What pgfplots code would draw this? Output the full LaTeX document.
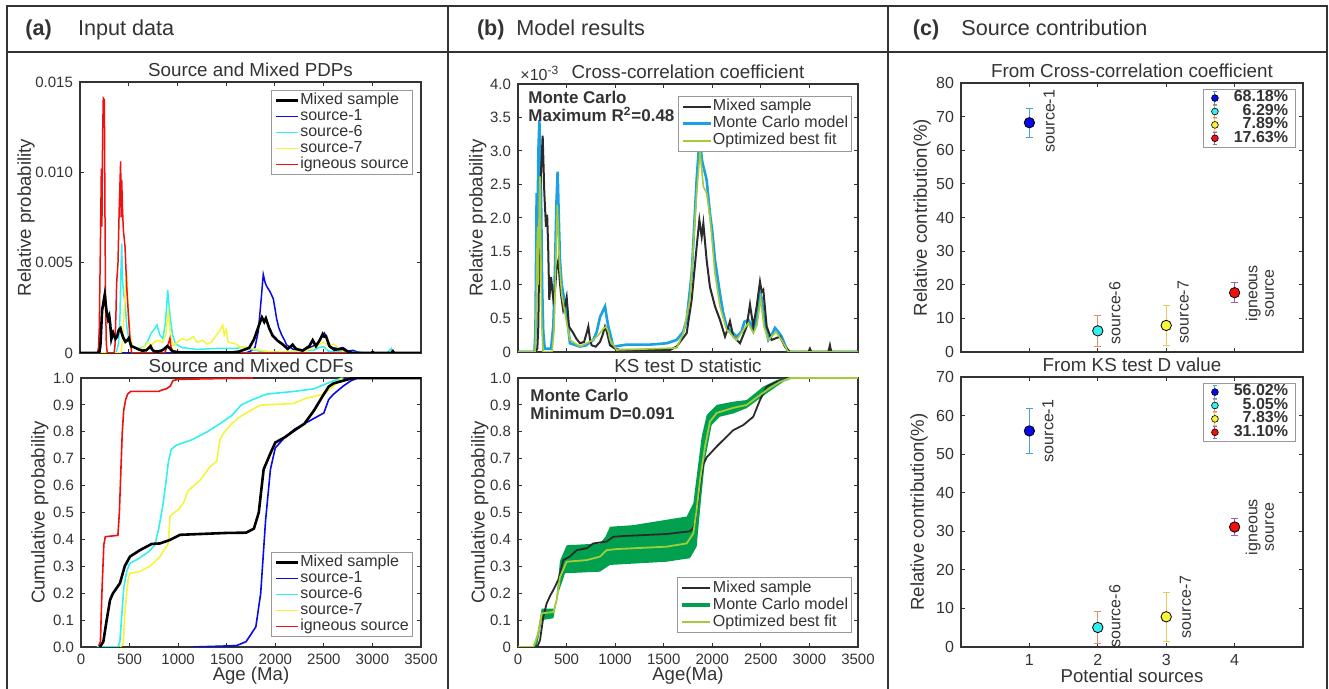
\documentclass[border=0pt]{standalone}
\usepackage{fontspec}
\setmainfont{Liberation Sans}
\usepackage{pgfplots}
\usepackage{pgfplotstable}
\pgfplotsset{compat=1.18}

\definecolor{axgray}{HTML}{333333}
\definecolor{txtgray}{HTML}{333333}
\definecolor{mixgray}{HTML}{2B2B2B}
\definecolor{s1}{HTML}{0A0AE6}
\definecolor{s6}{HTML}{33F0F0}
\definecolor{s7}{HTML}{F5F53A}
\definecolor{ign}{HTML}{F01010}
\definecolor{mcblue}{HTML}{1BA1E2}
\definecolor{fitgreen}{HTML}{A2CC3A}
\definecolor{bandgreen}{HTML}{00A04E}
\definecolor{e1}{HTML}{4A9FD8}
\definecolor{e6}{HTML}{E3906A}
\definecolor{e7}{HTML}{F0C65A}
\definecolor{eig}{HTML}{A45CB0}

% mixed sample PDP, in units of 1e-3
\pgfplotstableread{
x y
0 0
175 0
199 0.05
209 0.38
227 2.37
254 3.23
271 2.37
288 1.87
300 2.05
310 1.6
322 0.78
340 1.12
364 0.78
380 0.9
398 1.27
415 1.37
428 1.1
442 0.87
466 0.62
485 0.7
501 0.82
525 0.38
570 0.28
600 0.2
638 0.13
680 0.15
710 0.3
724 0.38
740 0.2
758 0.1
800 0.08
844 0.15
870 0.25
896 0.38
915 0.3
947 0.1
1000 0.05
1050 0.03
1564 0.03
1633 0.08
1684 0.18
1736 0.28
1788 0.78
1839 1.57
1867 1.97
1891 1.72
1908 1.92
1942 1.37
1976 0.97
2028 0.68
2079 0.48
2131 0.23
2160 0.35
2182 0.46
2216 0.23
2285 0.13
2354 0.38
2388 0.71
2422 0.38
2457 0.68
2491 1.05
2508 0.9
2525 0.93
2560 0.38
2611 0.18
2697 0.23
2748 0.08
2800 0
2990 0
3005 0.05
3020 0
3195 0
3211 0.1
3225 0
3500 0
}\mixpdp

\pgfplotsset{
  panel/.style={
    scale only axis, anchor=south west, clip mode=individual,
    axis line style={axgray, line width=0.7pt},
    tick style={axgray, line width=0.5pt},
    major tick length=2pt,
    tick label style={font=\fontsize{7.5}{8}\selectfont, text=txtgray},
    label style={font=\fontsize{9.3}{10}\selectfont, text=txtgray},
    every axis title shift=0pt,
    title style={font=\fontsize{9.4}{10}\selectfont, text=txtgray, at={(0.5,1)}, anchor=base, inner sep=0pt, yshift=2.7pt},
    xlabel style={at={(axis description cs:0.5,-0.106)}, anchor=center},
    /pgf/number format/assume math mode=true,
    legend style={draw=gray!80, line width=0.4pt, fill=white,
      font=\fontsize{8}{8}\selectfont, text=txtgray,
      inner xsep=1.5pt, inner ysep=1pt, cells={anchor=west},
      nodes={inner sep=0.4pt, text height=5.6pt, text depth=1.6pt}},
    legend image code/.code={\draw[##1] (0pt,0pt) -- (11pt,0pt);},
    xmin=0, xmax=3500,
  },
  ylab/.style={ylabel style={at={(axis description cs:#1,0.5)}, anchor=center}},
  agetick/.style={xtick={0,500,...,3500}},
  agelabels/.style={xticklabels={0,500,1000,1500,2000,2500,3000,3500}},
  blegend/.style={
    legend image code/.code={\draw[##1] (0pt,0pt) -- (14pt,0pt);},
    legend style={nodes={text height=6pt, text depth=2pt, inner sep=0.25pt}}},
  contrib/.style={
    xmin=0, xmax=5, ymin=0, xtick={1,2,3,4},
    tick label style={font=\fontsize{8}{8}\selectfont},
    legend cell align=right,
    legend style={at={(1,1)}, anchor=north east, xshift=-3.5pt, yshift=-3pt,
      inner xsep=3.5pt,
      font=\bfseries\fontsize{8}{8}\selectfont,
      nodes={text height=4.9pt, text depth=1.1pt, inner sep=0.25pt}}},
  pt/.style={only marks, mark=*, mark size=2.6pt, forget plot,
    mark options={fill=#1, draw=black, line width=0.4pt},
    error bars/y dir=both, error bars/y explicit},
  eb/.style={error bars/error bar style={color=#1, line width=0.5pt},
    error bars/error mark options={rotate=90, color=#1, line width=0.5pt, mark size=1.75pt}},
}
\tikzset{lab/.style={rotate=90, font=\fontsize{8}{8.3}\selectfont, text=txtgray, align=center, inner sep=0pt}}

\newcommand{\legpt}[2]{%
  \addlegendimage{legend image code/.code={%
    \path (0pt,0pt) (11pt,0pt);
    \draw[#2, line width=0.5pt] (2pt,-3.1pt) -- (2pt,3.1pt)
      (0.8pt,3.1pt) -- (3.2pt,3.1pt) (0.8pt,-3.1pt) -- (3.2pt,-3.1pt);
    \filldraw[fill=#1, draw=black, line width=0.3pt] (2pt,0pt) circle (1.7pt);}}}

\begin{document}
\begin{tikzpicture}
\useasboundingbox (0,0) rectangle (664.5pt,344.5pt);

% frame
\draw[axgray, line width=1pt] (3.5pt,0pt) -- (3.5pt,341.5pt) -- (663.5pt,341.5pt) -- (663.5pt,0pt);
\draw[axgray, line width=1pt] (3.5pt,318.5pt) -- (663.5pt,318.5pt);
\draw[axgray, line width=1pt] (224pt,0pt) -- (224pt,341.5pt);
\draw[axgray, line width=1pt] (444pt,0pt) -- (444pt,341.5pt);
\begin{scope}[every node/.style={anchor=base west, inner sep=0pt, text=txtgray}]
\node[font=\bfseries\fontsize{10.8}{11}\selectfont] at (12.5pt,326.5pt) {(a)};
\node[font=\fontsize{10.8}{11}\selectfont] at (38.8pt,326.5pt) {Input data};
\node[font=\bfseries\fontsize{10.8}{11}\selectfont] at (238.3pt,326.5pt) {(b)};
\node[font=\fontsize{10.8}{11}\selectfont] at (258pt,326.5pt) {Model results};
\node[font=\bfseries\fontsize{10.8}{11}\selectfont] at (456.2pt,326.5pt) {(c)};
\node[font=\fontsize{10.8}{11}\selectfont] at (480.5pt,326.5pt) {Source contribution};
\end{scope}

% (a) top: PDPs
\begin{axis}[panel, ylab=-0.158, at={(40pt,168pt)}, width=170.5pt, height=135.5pt,
  ymin=0, ymax=15, ytick={0,5,10,15}, yticklabels={0,0.005,0.010,0.015},
  agetick, xticklabels={},
  ylabel={Relative probability}, title={Source and Mixed PDPs},
  legend style={at={(1,1)}, anchor=north east, xshift=-4pt, yshift=-4pt}]
\addlegendimage{black, line width=1.3pt}\addlegendentry{Mixed sample}
\addlegendimage{s1, line width=0.8pt}\addlegendentry{source-1}
\addlegendimage{s6, line width=0.8pt}\addlegendentry{source-6}
\addlegendimage{s7, line width=0.8pt}\addlegendentry{source-7}
\addlegendimage{ign, line width=0.8pt}\addlegendentry{igneous source}
\addplot[s1, line width=0.75pt, forget plot] coordinates {
(0,0) (1700,0) (1750,0.1) (1796,0.3) (1830,1.2) (1860,3.0) (1881,4.35) (1900,3.9)
(1915,3.7) (1950,3.4) (1984,3.0) (2000,2.5) (2018,1.9) (2040,1.4) (2070,1.0)
(2100,0.7) (2120,0.45) (2190,0.2) (2300,0.15) (2400,0.4) (2450,0.6) (2480,0.85)
(2510,1.1) (2540,0.7) (2580,0.3) (2650,0.25) (2700,0.3) (2750,0.1) (2800,0.15)
(2850,0.05) (2900,0) (3500,0)};
\addplot[s6, line width=0.75pt, forget plot] coordinates {
(0,0) (370,0) (395,0.5) (410,2.0) (420,4.5) (428,6.07) (437,4.0) (450,3.2)
(465,2.6) (480,1.5) (500,0.8) (530,0.4) (600,0.25) (660,0.35) (700,0.7) (730,1.1)
(760,1.3) (790,1.55) (820,1.0) (850,0.8) (875,1.6) (890,2.6) (900,3.49) (912,2.7)
(930,1.8) (950,1.0) (980,0.5) (1050,0.3) (1200,0.2) (1400,0.25) (1600,0.25)
(1700,0.35) (1760,0.2) (1850,0.1) (2000,0.05) (2200,0.1) (2400,0.15) (2450,0.3)
(2500,0.35) (2550,0.1) (2700,0.05) (3150,0) (3195,0.25) (3210,0) (3500,0)};
\addplot[s7, line width=0.75pt, forget plot] coordinates {
(0,0) (420,0) (440,0.8) (455,2.5) (479,4.45) (488,3.2) (498,2.0) (512,1.0)
(540,0.4) (600,0.2) (650,0.3) (700,0.6) (730,0.4) (760,0.6) (800,0.7) (850,0.6)
(880,1.0) (895,1.8) (906,2.3) (920,1.5) (935,0.8) (960,0.4) (1000,0.6) (1050,0.8)
(1100,0.7) (1163,0.9) (1200,0.6) (1260,0.7) (1300,0.5) (1350,0.6) (1400,1.0)
(1430,1.2) (1464,1.55) (1480,1.0) (1500,1.3) (1520,0.6) (1600,0.5) (1650,0.3)
(1700,0.35) (1800,0.2) (1900,0.1) (2000,0.05) (2300,0.1) (2400,0.3) (2450,0.45)
(2500,0.6) (2550,0.4) (2600,0.5) (2650,0.3) (2700,0.05) (2750,0) (3500,0)};
\addplot[ign, line width=0.75pt, forget plot] coordinates {
(0,0) (180,0) (190,0.3) (198,1.4) (212,7.0) (219,10.2) (225,7.0) (232,12.0)
(239,14.1) (250,14.0) (256,8.0) (262,3.0) (270,0.5) (280,0) (350,0) (359,0.4)
(369,2.2) (376,3.86) (390,5.0) (403,8.1) (417,10.6) (423,7.5) (428,9.6) (436,8.0)
(445,6.8) (462,5.9) (479,3.7) (496,2.2) (513,0.8) (530,0) (870,0) (890,0.3)
(906,0.5) (923,0.81) (935,0.3) (960,0) (3500,0)};
\addplot[black, line width=1.3pt, forget plot] table {\mixpdp};
\end{axis}

% (a) bottom: CDFs
\begin{axis}[panel, ylab=-0.121, at={(40.5pt,21pt)}, width=170pt, height=134.5pt,
  ymin=0, ymax=1, ytick={0,0.1,...,1},
  yticklabels={0.0,0.1,0.2,0.3,0.4,0.5,0.6,0.7,0.8,0.9,1.0},
  agetick, agelabels,
  xlabel={Age (Ma)}, ylabel={Cumulative probability}, title={Source and Mixed CDFs},
  legend style={at={(1,0)}, anchor=south east, xshift=-4pt, yshift=5pt}]
\addlegendimage{black, line width=1.3pt}\addlegendentry{Mixed sample}
\addlegendimage{s1, line width=0.8pt}\addlegendentry{source-1}
\addlegendimage{s6, line width=0.8pt}\addlegendentry{source-6}
\addlegendimage{s7, line width=0.8pt}\addlegendentry{source-7}
\addlegendimage{ign, line width=0.8pt}\addlegendentry{igneous source}
\addplot[ign, line width=0.8pt, forget plot] coordinates {
(178,0) (200,0.02) (215,0.2) (235,0.38) (250,0.41) (380,0.415) (395,0.5) (410,0.65)
(425,0.8) (440,0.88) (460,0.92) (480,0.94) (510,0.95) (800,0.95) (830,0.955)
(880,0.96) (920,0.97) (945,0.99) (1000,0.995) (1770,1.0)};
\addplot[s6, line width=0.8pt, forget plot] coordinates {
(160,0) (380,0) (400,0.02) (420,0.12) (440,0.22) (470,0.28) (500,0.31) (600,0.33)
(700,0.355) (760,0.38) (800,0.44) (840,0.52) (870,0.6) (900,0.69) (930,0.735)
(980,0.75) (1140,0.77) (1300,0.8) (1430,0.83) (1550,0.86) (1650,0.9) (1770,0.92)
(1910,0.94) (2190,0.95) (2400,0.96) (2500,0.975) (2600,0.99) (2700,1.0)};
\addplot[s7, line width=0.8pt, forget plot] coordinates {
(401,0) (435,0.01) (450,0.12) (470,0.2) (490,0.26) (504,0.274) (600,0.28)
(710,0.3) (813,0.336) (899,0.385) (910,0.45) (916,0.485) (960,0.5) (1000,0.51)
(1053,0.534) (1100,0.58) (1225,0.62) (1328,0.67) (1397,0.69) (1430,0.77)
(1465,0.794) (1550,0.83) (1637,0.856) (1750,0.88) (1843,0.899) (2186,0.905)
(2320,0.925) (2500,0.94) (2600,0.97) (2683,1.0)};
\addplot[s1, line width=0.8pt, forget plot] coordinates {
(1156,0) (1600,0.005) (1700,0.02) (1800,0.075) (1850,0.2) (1900,0.47) (1950,0.66)
(2000,0.74) (2100,0.78) (2200,0.81) (2300,0.83) (2450,0.86) (2500,0.87)
(2550,0.92) (2600,0.94) (2700,0.97) (2780,0.99) (2850,1.0) (3500,1.0)};
\addplot[black, line width=1.3pt, forget plot] coordinates {
(195,0) (230,0.02) (260,0.09) (299,0.175) (330,0.2) (401,0.237) (450,0.3)
(504,0.336) (607,0.36) (727,0.383) (813,0.385) (916,0.398) (1019,0.417)
(1500,0.424) (1700,0.425) (1780,0.44) (1830,0.5) (1880,0.66) (1950,0.72)
(2000,0.76) (2100,0.78) (2200,0.806) (2300,0.83) (2400,0.88) (2500,0.94)
(2550,0.968) (2600,0.98) (2700,0.99) (2800,1.0) (3500,1.0)};
\end{axis}

% (b) top: cross-correlation
\begin{axis}[panel, blegend, ylab=-0.118, at={(259pt,168.5pt)}, width=170pt, height=134pt,
  ymin=0, ymax=4, ytick={0,0.5,...,4},
  yticklabels={0,0.5,1.0,1.5,2.0,2.5,3.0,3.5,4.0},
  agetick, xticklabels={},
  ylabel={Relative probability}, title={Cross-correlation coefficient},
  legend style={at={(1,1)}, anchor=north east, xshift=-3pt, yshift=-6pt}]
\addlegendimage{mixgray, line width=1pt}\addlegendentry{Mixed sample}
\addlegendimage{mcblue, line width=1.6pt}\addlegendentry{Monte Carlo model}
\addlegendimage{fitgreen, line width=1pt}\addlegendentry{Optimized best fit}
\addplot[mcblue, line width=1.3pt, forget plot] coordinates {
(0,0) (170,0) (180,0.38) (192,2.37) (200,1.8) (210,3.0) (220,3.46) (228,2.9)
(237,2.37) (248,1.0) (260,0.3) (275,0.05) (340,0.05) (364,0.4) (380,1.2) (395,2.2)
(408,2.69) (420,2.0) (432,1.37) (450,1.0) (466,0.87) (501,0.57) (535,0.13)
(638,0.08) (700,0.1) (775,0.18) (810,0.3) (844,0.52) (870,0.6) (896,0.68)
(915,0.5) (930,0.38) (981,0.08) (1119,0.11) (1359,0.11) (1530,0.13) (1633,0.18)
(1700,0.3) (1736,0.48) (1788,1.17) (1839,2.57) (1874,3.29) (1890,2.9) (1901,2.81)
(1920,2.7) (1942,2.57) (1960,2.3) (1976,2.07) (2000,1.8) (2028,1.37) (2079,0.87)
(2110,0.6) (2148,0.38) (2200,0.3) (2251,0.23) (2300,0.3) (2330,0.45) (2371,0.48)
(2422,0.35) (2460,0.5) (2491,0.87) (2510,0.8) (2525,0.57) (2577,0.18) (2610,0.25)
(2645,0.36) (2680,0.3) (2714,0.23) (2750,0.1) (2783,0) (3500,0)};
\addplot[mixgray, line width=1pt, forget plot] table {\mixpdp};
\addplot[fitgreen, line width=0.8pt, forget plot] coordinates {
(0,0) (175,0) (185,0.5) (195,1.5) (203,1.87) (210,1.0) (218,2.2) (226,2.62)
(235,1.5) (245,0.4) (258,0) (350,0) (370,0.3) (381,0.87) (395,1.7) (405,2.2)
(415,1.8) (425,1.37) (449,0.87) (484,0.57) (535,0.18) (638,0.08) (775,0.18)
(844,0.28) (880,0.35) (906,0.38) (930,0.3) (947,0.18) (1016,0.03) (1633,0.06)
(1702,0.28) (1770,0.78) (1839,2.37) (1874,2.99) (1908,2.47) (1942,2.37)
(1976,2.02) (2028,1.17) (2079,0.68) (2148,0.33) (2251,0.18) (2330,0.35)
(2371,0.43) (2422,0.28) (2460,0.4) (2498,0.8) (2532,0.38) (2577,0.18) (2655,0.3)
(2714,0.18) (2783,0) (3500,0)};
\node[anchor=north west, align=left, inner sep=0pt, text=txtgray,
  font=\bfseries\fontsize{8.5}{9}\selectfont, xshift=5pt, yshift=-3.3pt]
  at (rel axis cs:0,1) {Monte Carlo\\Maximum R\textsuperscript{2}=0.48};
\node[anchor=south west, inner sep=0pt, text=txtgray, font=\fontsize{8}{8}\selectfont,
  xshift=1pt, yshift=1.5pt] at (rel axis cs:0,1) {×10\textsuperscript{-3}};
\end{axis}

% (b) bottom: KS statistic
\begin{axis}[panel, blegend, ylab=-0.112, at={(259pt,21pt)}, width=170pt, height=134.5pt,
  ymin=0, ymax=1, ytick={0,0.1,...,1},
  yticklabels={0,0.1,0.2,0.3,0.4,0.5,0.6,0.7,0.8,0.9,1.0},
  agetick, agelabels,
  xlabel={Age(Ma)}, ylabel={Cumulative probability}, title={KS test D statistic},
  legend style={at={(1,0)}, anchor=south east, xshift=-3pt, yshift=7pt}]
\addlegendimage{mixgray, line width=1pt}\addlegendentry{Mixed sample}
\addlegendimage{bandgreen, line width=2.2pt}\addlegendentry{Monte Carlo model}
\addlegendimage{fitgreen, line width=1pt}\addlegendentry{Optimized best fit}
% Monte Carlo envelope: upper edge, then lower edge back
\addplot[fill=bandgreen, draw=none, forget plot] coordinates {
(158,0) (200,0.05) (244,0.143) (381,0.143) (400,0.2) (432,0.32) (501,0.378)
(844,0.385) (900,0.41) (947,0.447) (1187,0.453) (1736,0.485) (1805,0.535)
(1839,0.633) (1891,0.782) (1942,0.862) (2045,0.9) (2216,0.912) (2354,0.918)
(2525,0.968) (2663,0.992) (2731,1.0) (3500,1.0)
(3500,1.0) (2834,1.0) (2731,0.986) (2560,0.943) (2354,0.888) (2216,0.868)
(2079,0.856) (1993,0.825) (1925,0.695) (1874,0.51) (1839,0.373) (1770,0.33)
(1530,0.317) (947,0.305) (844,0.28) (484,0.274) (415,0.2) (364,0.107) (244,0.1)
(220,0.05) (192,0) (158,0)};
\addplot[mixgray, line width=0.9pt, forget plot] coordinates {
(0,0) (192,0) (210,0.01) (227,0.026) (261,0.113) (295,0.162) (330,0.19)
(364,0.212) (415,0.25) (466,0.323) (535,0.336) (604,0.36) (707,0.367) (775,0.385)
(912,0.392) (981,0.41) (1119,0.413) (1530,0.42) (1770,0.43) (1800,0.44)
(1822,0.46) (1850,0.53) (1880,0.62) (1910,0.68) (1942,0.705) (2045,0.745)
(2148,0.782) (2216,0.806) (2319,0.825) (2422,0.856) (2491,0.918) (2560,0.968)
(2663,0.986) (2766,1.0) (3500,1.0)};
\addplot[fitgreen, line width=0.9pt, forget plot] coordinates {
(0,0) (158,0) (209,0.05) (244,0.125) (364,0.13) (398,0.175) (432,0.26)
(501,0.317) (707,0.323) (844,0.336) (912,0.36) (1016,0.364) (1530,0.373)
(1736,0.385) (1805,0.422) (1839,0.51) (1874,0.62) (1925,0.745) (1976,0.838)
(2045,0.87) (2216,0.889) (2354,0.9) (2560,0.955) (2697,0.986) (2800,1.0) (3500,1.0)};
\node[anchor=north west, align=left, inner sep=0pt, text=txtgray,
  font=\bfseries\fontsize{8.5}{9}\selectfont, xshift=6pt, yshift=-5.5pt]
  at (rel axis cs:0,1) {Monte Carlo\\Minimum D=0.091};
\end{axis}

% (c) top: from cross-correlation
\begin{axis}[panel, contrib, ylab=-0.114, at={(480.5pt,168.5pt)}, width=171pt, height=134.5pt,
  ymax=80, ytick={0,10,...,80}, xticklabels={},
  ylabel={Relative contribution(\%)}, title={From Cross-correlation coefficient}]
\legpt{s1}{e1}\addlegendentry{68.18\%}
\legpt{s6}{e6}\addlegendentry{6.29\%}
\legpt{s7}{e7}\addlegendentry{7.89\%}
\legpt{ign}{eig}\addlegendentry{17.63\%}
\addplot[pt=s1, eb=e1] coordinates {(1,68.18) += (0,4.3) -= (0,4.4)};
\addplot[pt=s6, eb=e6] coordinates {(2,6.29) += (0,4.5) -= (0,4.6)};
\addplot[pt=s7, eb=e7] coordinates {(3,7.89) += (0,5.9) -= (0,5.9)};
\addplot[pt=ign, eb=eig] coordinates {(4,17.63) += (0,2.9) -= (0,2.8)};
\node[lab] at (axis cs:1.29,68.7) {source-1};
\node[lab] at (axis cs:2.25,11.6) {source-6};
\node[lab] at (axis cs:3.25,11.9) {source-7};
\node[lab] at (axis cs:4.37,17.5) {igneous\\source};
\end{axis}

% (c) bottom: from KS D value
\begin{axis}[panel, contrib, ylab=-0.123, at={(480.5pt,21pt)}, width=171pt, height=135pt,
  ymax=70, ytick={0,10,...,70}, xticklabels={1,2,3,4},
  xlabel={Potential sources}, ylabel={Relative contribution(\%)}, title={From KS test D value}]
\legpt{s1}{e1}\addlegendentry{56.02\%}
\legpt{s6}{e6}\addlegendentry{5.05\%}
\legpt{s7}{e7}\addlegendentry{7.83\%}
\legpt{ign}{eig}\addlegendentry{31.10\%}
\addplot[pt=s1, eb=e1] coordinates {(1,56.02) += (0,5.9) -= (0,5.9)};
\addplot[pt=s6, eb=e6] coordinates {(2,5.05) += (0,4.15) -= (0,4.15)};
\addplot[pt=s7, eb=e7] coordinates {(3,7.83) += (0,6.4) -= (0,6.4)};
\addplot[pt=ign, eb=eig] coordinates {(4,31.10) += (0,2.2) -= (0,2.1)};
\node[lab] at (axis cs:1.27,56.0) {source-1};
\node[lab] at (axis cs:2.25,8.0) {source-6};
\node[lab] at (axis cs:3.28,10.4) {source-7};
\node[lab] at (axis cs:4.37,31.1) {igneous\\source};
\end{axis}
\end{tikzpicture}
\end{document}
